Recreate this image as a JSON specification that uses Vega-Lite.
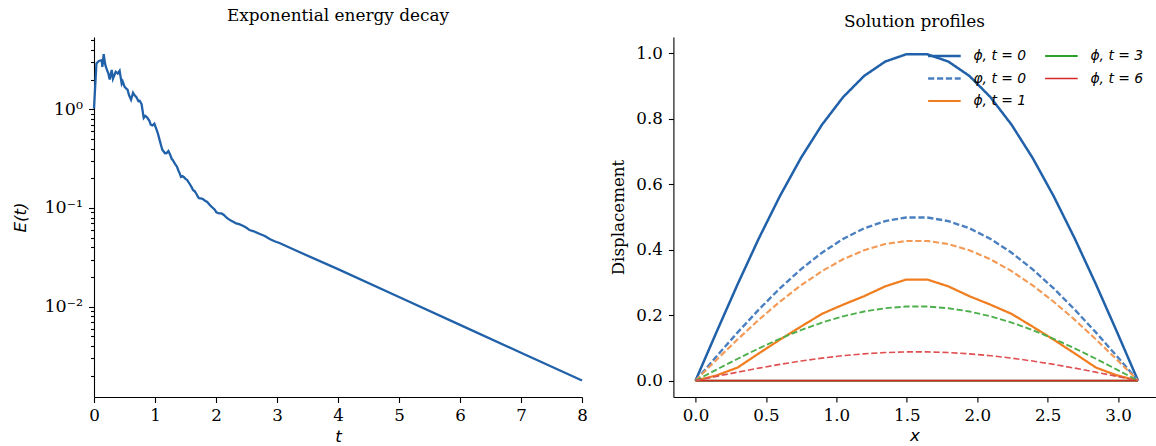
{
  "$schema": "https://vega.github.io/schema/vega-lite/v6.json",
  "autosize": {"type": "pad"},
  "padding": {"left": 12, "top": 7, "right": 0, "bottom": 5},
  "bounds": "flush",
  "spacing": 91.4,
  "background": "white",
  "config": {
    "view": {"stroke": null},
    "axis": {"grid": false, "domainColor": "black", "domainWidth": 1.1, "tickColor": "black", "tickWidth": 1.1, "labelColor": "black", "titleColor": "black", "labelFont": "DejaVu Serif", "labelFontSize": 16.7, "titleFont": "DejaVu Serif", "titleFontSize": 16.7, "titleFontWeight": "normal", "labelFlush": false},
    "title": {"font": "DejaVu Serif", "fontSize": 16.9, "fontWeight": "normal", "color": "black", "offset": 6}
  },
  "datasets": {
    "energy": [
      {"t": 0, "E": 1.02}, {"t": 0.04, "E": 2.92}, {"t": 0.08, "E": 3.09}, {"t": 0.126, "E": 3.15}, {"t": 0.137, "E": 2.69},
      {"t": 0.159, "E": 3.63}, {"t": 0.18, "E": 2.92}, {"t": 0.2, "E": 2.63}, {"t": 0.236, "E": 2.31}, {"t": 0.257, "E": 2.0},
      {"t": 0.29, "E": 2.51}, {"t": 0.31, "E": 2.04}, {"t": 0.356, "E": 2.4}, {"t": 0.39, "E": 2.31}, {"t": 0.42, "E": 2.46},
      {"t": 0.454, "E": 1.82}, {"t": 0.47, "E": 1.92}, {"t": 0.5, "E": 1.7}, {"t": 0.53, "E": 1.62}, {"t": 0.55, "E": 1.58},
      {"t": 0.574, "E": 1.39}, {"t": 0.607, "E": 1.25}, {"t": 0.64, "E": 1.47}, {"t": 0.66, "E": 1.4},
      {"t": 0.695, "E": 1.33}, {"t": 0.728, "E": 1.21}, {"t": 0.75, "E": 1.22}, {"t": 0.78, "E": 1.13}, {"t": 0.815, "E": 0.82},
      {"t": 0.84, "E": 0.86}, {"t": 0.87, "E": 0.83},
      {"t": 0.91, "E": 0.76}, {"t": 0.93, "E": 0.7}, {"t": 0.957, "E": 0.687}, {"t": 0.99, "E": 0.714}, {"t": 1.03, "E": 0.611},
      {"t": 1.05, "E": 0.56}, {"t": 1.077, "E": 0.484}, {"t": 1.1, "E": 0.43},
      {"t": 1.12, "E": 0.389}, {"t": 1.164, "E": 0.359}, {"t": 1.19, "E": 0.36}, {"t": 1.22, "E": 0.377}, {"t": 1.25, "E": 0.345},
      {"t": 1.274, "E": 0.315}, {"t": 1.3, "E": 0.3}, {"t": 1.328, "E": 0.28}, {"t": 1.36, "E": 0.262},
      {"t": 1.383, "E": 0.24}, {"t": 1.4, "E": 0.228}, {"t": 1.426, "E": 0.2065}, {"t": 1.45, "E": 0.21}, {"t": 1.48, "E": 0.204},
      {"t": 1.5, "E": 0.197}, {"t": 1.525, "E": 0.193}, {"t": 1.569, "E": 0.175}, {"t": 1.6, "E": 0.163},
      {"t": 1.623, "E": 0.152}, {"t": 1.65, "E": 0.148}, {"t": 1.68, "E": 0.1387}, {"t": 1.7, "E": 0.131}, {"t": 1.72, "E": 0.1259},
      {"t": 1.75, "E": 0.125}, {"t": 1.777, "E": 0.1236}, {"t": 1.8, "E": 0.121}, {"t": 1.82, "E": 0.1186}, {"t": 1.85, "E": 0.116},
      {"t": 1.875, "E": 0.1114}, {"t": 1.9, "E": 0.107}, {"t": 1.95, "E": 0.1}, {"t": 1.98, "E": 0.096}, {"t": 2.006, "E": 0.0902},
      {"t": 2.05, "E": 0.088}, {"t": 2.09, "E": 0.0881}, {"t": 2.13, "E": 0.085}, {"t": 2.17, "E": 0.0802}, {"t": 2.2, "E": 0.0775},
      {"t": 2.25, "E": 0.0741}, {"t": 2.29, "E": 0.072}, {"t": 2.33, "E": 0.0697}, {"t": 2.38, "E": 0.0685}, {"t": 2.44, "E": 0.0661},
      {"t": 2.5, "E": 0.063}, {"t": 2.55, "E": 0.0597}, {"t": 2.62, "E": 0.058}, {"t": 2.72, "E": 0.0545}, {"t": 2.8, "E": 0.052},
      {"t": 2.88, "E": 0.0484}, {"t": 2.96, "E": 0.046}, {"t": 3.04, "E": 0.0442}, {"t": 3.32, "E": 0.0368}, {"t": 4, "E": 0.024}, {"t": 5, "E": 0.0125},
      {"t": 6, "E": 0.00653}, {"t": 7, "E": 0.00341}, {"t": 8, "E": 0.00178}
    ],
    "profiles": [
      {"x": 0, "a": 0, "b": 0, "c": 0, "d": 0, "e": 0, "f": 0, "g": 0, "h": 0},
      {"x": 0.1496, "a": 0.149, "b": 0.0745, "c": 0.016, "d": 0.0638, "e": 0, "f": 0.0338, "g": 0, "h": 0.0131},
      {"x": 0.2992, "a": 0.2948, "b": 0.1474, "c": 0.04, "d": 0.1262, "e": 0, "f": 0.0669, "g": 0, "h": 0.0259},
      {"x": 0.4488, "a": 0.4339, "b": 0.2169, "c": 0.083, "d": 0.1857, "e": 0, "f": 0.0985, "g": 0, "h": 0.0382},
      {"x": 0.5984, "a": 0.5633, "b": 0.2817, "c": 0.125, "d": 0.2411, "e": 0, "f": 0.1279, "g": 0, "h": 0.0496},
      {"x": 0.748, "a": 0.6802, "b": 0.3401, "c": 0.165, "d": 0.2911, "e": 0, "f": 0.1544, "g": 0, "h": 0.0599},
      {"x": 0.8976, "a": 0.7818, "b": 0.3909, "c": 0.204, "d": 0.3346, "e": 0, "f": 0.1775, "g": 0, "h": 0.0688},
      {"x": 1.0472, "a": 0.866, "b": 0.433, "c": 0.232, "d": 0.3707, "e": 0, "f": 0.1966, "g": 0, "h": 0.0762},
      {"x": 1.1968, "a": 0.9309, "b": 0.4654, "c": 0.258, "d": 0.3984, "e": 0, "f": 0.2113, "g": 0, "h": 0.0819},
      {"x": 1.3464, "a": 0.9749, "b": 0.4875, "c": 0.288, "d": 0.4173, "e": 0, "f": 0.2213, "g": 0, "h": 0.0858},
      {"x": 1.496, "a": 0.9972, "b": 0.4986, "c": 0.309, "d": 0.4268, "e": 0, "f": 0.2264, "g": 0, "h": 0.0878},
      {"x": 1.6456, "a": 0.9972, "b": 0.4986, "c": 0.309, "d": 0.4268, "e": 0, "f": 0.2264, "g": 0, "h": 0.0878},
      {"x": 1.7952, "a": 0.9749, "b": 0.4875, "c": 0.288, "d": 0.4173, "e": 0, "f": 0.2213, "g": 0, "h": 0.0858},
      {"x": 1.9448, "a": 0.9309, "b": 0.4654, "c": 0.258, "d": 0.3984, "e": 0, "f": 0.2113, "g": 0, "h": 0.0819},
      {"x": 2.0944, "a": 0.866, "b": 0.433, "c": 0.232, "d": 0.3707, "e": 0, "f": 0.1966, "g": 0, "h": 0.0762},
      {"x": 2.244, "a": 0.7818, "b": 0.3909, "c": 0.204, "d": 0.3346, "e": 0, "f": 0.1775, "g": 0, "h": 0.0688},
      {"x": 2.3936, "a": 0.6802, "b": 0.3401, "c": 0.165, "d": 0.2911, "e": 0, "f": 0.1544, "g": 0, "h": 0.0599},
      {"x": 2.5432, "a": 0.5633, "b": 0.2817, "c": 0.125, "d": 0.2411, "e": 0, "f": 0.1279, "g": 0, "h": 0.0496},
      {"x": 2.6928, "a": 0.4339, "b": 0.2169, "c": 0.083, "d": 0.1857, "e": 0, "f": 0.0985, "g": 0, "h": 0.0382},
      {"x": 2.8424, "a": 0.2948, "b": 0.1474, "c": 0.04, "d": 0.1262, "e": 0, "f": 0.0669, "g": 0, "h": 0.0259},
      {"x": 2.992, "a": 0.149, "b": 0.0745, "c": 0.016, "d": 0.0638, "e": 0, "f": 0.0338, "g": 0, "h": 0.0131},
      {"x": 3.1416, "a": 0, "b": 0, "c": 0, "d": 0, "e": 0, "f": 0, "g": 0, "h": 0}
    ]
  },
  "hconcat": [
    {
      "width": 488,
      "height": 360,
      "title": {"text": "Exponential energy decay"},
      "data": {"name": "energy"},
      "mark": {"type": "line", "color": "#2161a9", "strokeWidth": 2.3},
      "encoding": {
        "x": {
          "field": "t", "type": "quantitative",
          "scale": {"domain": [0, 8], "nice": false, "zero": false},
          "axis": {"values": [0, 1, 2, 3, 4, 5, 6, 7, 8], "format": "d", "title": "t", "titleFont": "DejaVu Sans", "titleFontStyle": "italic", "tickSize": 5.5, "labelPadding": 5, "titlePadding": 4}
        },
        "y": {
          "field": "E", "type": "quantitative",
          "scale": {"type": "log", "domain": [0.001213, 5.41], "nice": false},
          "axis": {
            "values": [0.002, 0.003, 0.004, 0.005, 0.006, 0.007, 0.008, 0.009, 0.01, 0.02, 0.03, 0.04, 0.05, 0.06, 0.07, 0.08, 0.09, 0.1, 0.2, 0.3, 0.4, 0.5, 0.6, 0.7, 0.8, 0.9, 1, 2, 3, 4, 5],
            "labelExpr": "abs(log(datum.value)/LN10 - round(log(datum.value)/LN10)) < 0.01 ? (round(log(datum.value)/LN10) == 0 ? '10⁰' : (round(log(datum.value)/LN10) == -1 ? '10⁻¹' : '10⁻²')) : ''",
            "tickSize": {"condition": {"test": "abs(log(datum.value)/LN10 - round(log(datum.value)/LN10)) < 0.01", "value": 5.5}, "value": 3.5},
            "labelOverlap": false,
            "labelPadding": 6,
            "labelFontSize": 17.5,
            "title": "E(t)", "titleFont": "DejaVu Sans", "titleFontStyle": "italic", "titlePadding": 14
          }
        }
      }
    },
    {
      "width": 482,
      "height": 360,
      "title": {"text": "Solution profiles"},
      "data": {"name": "profiles"},
      "transform": [{"fold": ["a", "b", "c", "d", "e", "f", "g", "h"], "as": ["s", "y"]}],
      "mark": {"type": "line"},
      "encoding": {
        "x": {
          "field": "x", "type": "quantitative",
          "scale": {"domain": [-0.157, 3.265], "nice": false, "zero": false},
          "axis": {"values": [0, 0.5, 1, 1.5, 2, 2.5, 3], "format": ".1f", "title": "x", "titleFont": "DejaVu Sans", "titleFontStyle": "italic", "tickSize": 5, "labelPadding": 5, "titlePadding": 4}
        },
        "y": {
          "field": "y", "type": "quantitative",
          "scale": {"domain": [-0.05, 1.05], "nice": false, "zero": false},
          "axis": {"values": [0, 0.2, 0.4, 0.6, 0.8, 1.0], "format": ".1f", "title": "Displacement", "tickSize": 5, "labelPadding": 6, "titlePadding": 8}
        },
        "color": {
          "field": "s", "type": "nominal", "title": null,
          "scale": {"domain": ["a", "b", "c", "d", "e", "f", "g", "h"], "range": ["#2161a9", "#4a7fc0", "#f07e20", "#f39a56", "#2ca02c", "#4caf4c", "#d62728", "#e05052"]},
          "legend": {
            "orient": "none", "legendX": 832.4, "legendY": 9,
            "values": ["a", "b", "c", "e", "g"],
            "columns": 2,
            "labelExpr": "datum.value == 'a' ? 'ϕ, t = 0' : (datum.value == 'b' ? 'φ, t = 0' : (datum.value == 'c' ? 'ϕ, t = 1' : (datum.value == 'e' ? 'ϕ, t = 3' : 'ϕ, t = 6')))",
            "labelFont": "DejaVu Sans", "labelFontStyle": "italic", "labelFontSize": 13.9, "labelColor": "black",
            "symbolType": "stroke", "symbolSize": 1063, "labelOffset": 11, "columnPadding": 17, "rowPadding": 2.5, "clipHeight": 20
          }
        },
        "strokeDash": {
          "field": "s", "type": "nominal", "title": null,
          "scale": {"domain": ["a", "b", "c", "d", "e", "f", "g", "h"], "range": [[1, 0], [6.2, 2.7], [1, 0], [6.2, 2.7], [1, 0], [6.2, 2.7], [1, 0], [6.2, 2.7]]}
        },
        "strokeWidth": {
          "field": "s", "type": "nominal", "title": null,
          "scale": {"domain": ["a", "b", "c", "d", "e", "f", "g", "h"], "range": [2.5, 1.6, 2.5, 1.6, 2.5, 1.6, 2.8, 1.6]}
        }
      }
    }
  ]
}
